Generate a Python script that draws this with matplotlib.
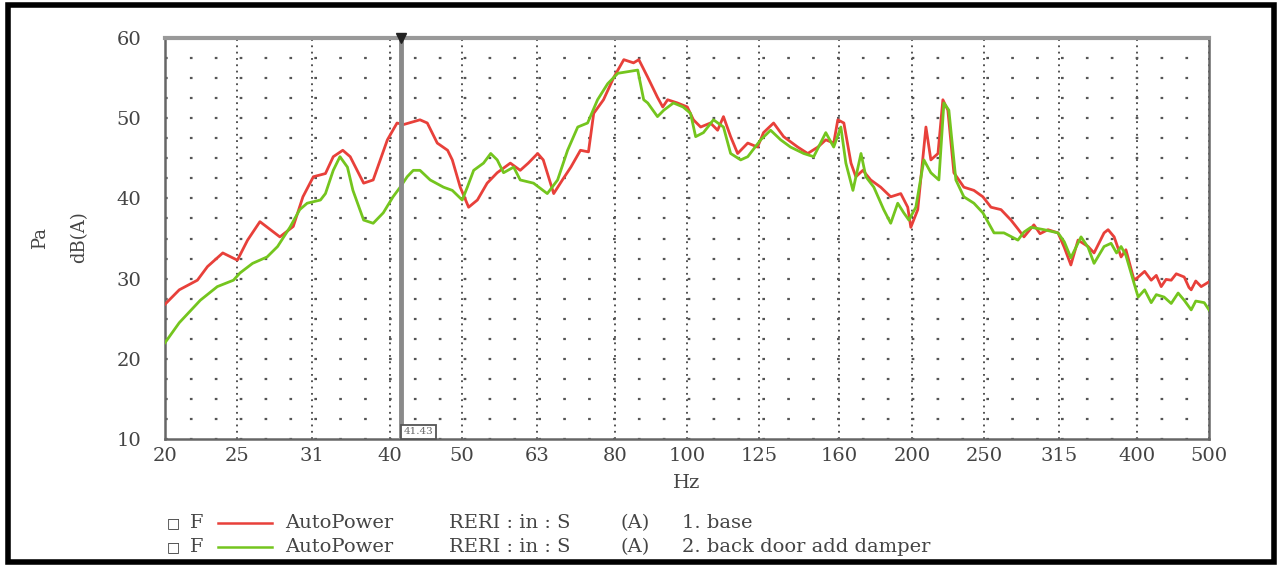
import numpy as np
import matplotlib
matplotlib.use('Agg')
import matplotlib.pyplot as plt
from matplotlib.lines import Line2D
from matplotlib.patches import Rectangle

# 1/3 octave band ticks
band_pos = [20, 25, 31.5, 40, 50, 63, 80, 100, 125, 160, 200, 250, 315, 400, 500]
band_lab = ['20', '25', '31', '40', '50', '63', '80', '100', '125', '160', '200', '250', '315', '400', '500']

# 1. base (red)
f_base = [20.0, 20.9, 22.1, 22.8, 23.9, 25.0, 25.8, 26.8, 28.5, 29.7, 30.6, 31.6, 32.8, 33.6, 34.6,
          35.4, 36.9, 38.0, 39.7, 40.9, 41.7, 43.9, 44.9, 46.3, 47.8, 48.5, 49.7, 51.0, 52.4, 54.0,
          55.7, 58.0, 59.8, 61.3, 63.1, 64.2, 66.3, 68.1, 69.9, 72.0, 73.8, 75.0, 77.3, 79.8, 82.3,
          84.8, 86.2, 88.6, 91.3, 92.8, 94.2, 97.1, 100.1, 102.0, 104.3, 107.5, 109.9, 111.9, 114.4,
          116.9, 120.6, 124.3, 126.6, 130.6, 134.7, 140.7, 145.1, 149.7, 153.4, 157.2, 159.2, 162.2,
          165.8, 168.3, 172.0, 176.2, 181.7, 187.4, 193.3, 197.5, 199.4, 203.7, 208.9, 212.1, 216.8,
          220.1, 223.5, 227.7, 234.8, 242.2, 249.0, 255.3, 263.3, 271.5, 277.4, 282.6, 291.4, 297.0,
          304.3, 313.9, 320.0, 326.6, 333.9, 344.4, 350.8, 361.8, 366.3, 373.2, 381.3, 387.0, 396.9,
          401.9, 410.0, 418.4, 425.0, 431.5, 438.0, 445.0, 452.0, 463.2, 470.0, 473.3, 480.0, 488.1, 500.0]
db_base = [26.8, 28.6, 29.8, 31.5, 33.2, 32.3, 34.8, 37.1, 35.2, 36.5, 40.2, 42.7, 43.1, 45.2, 46.0,
           45.2, 41.9, 42.3, 47.3, 49.4, 49.2, 49.8, 49.4, 46.9, 46.0, 44.8, 41.4, 38.9, 39.8, 41.9,
           43.2, 44.4, 43.5, 44.4, 45.6, 44.8, 40.6, 42.3, 43.9, 46.0, 45.8, 50.6, 52.3, 55.1, 57.3,
           56.9, 57.3, 55.1, 52.6, 51.4, 52.3, 51.9, 51.4, 49.8, 48.9, 49.4, 48.5, 50.2, 47.7,
           45.6, 46.9, 46.4, 48.2, 49.4, 47.7, 46.4, 45.6, 46.4, 47.3, 46.9, 49.8, 49.4,
           44.4, 42.7, 43.5, 42.3, 41.4, 40.2, 40.6, 38.9, 36.4, 38.6, 48.9, 44.8, 45.6,
           52.3, 51.0, 43.2, 41.4, 41.0, 40.2, 38.9, 38.6, 37.3, 36.2, 35.2, 36.7, 35.6,
           36.1, 35.7, 33.9, 31.7, 34.8, 34.0, 33.2, 35.7, 36.1, 35.2, 32.7, 33.6, 29.8,
           30.2, 30.9, 29.8, 30.4, 29.0, 29.9, 29.8, 30.6, 30.2, 28.9, 28.6, 29.7, 29.0, 29.6]

# 2. back door add damper (green)
f_damp = [20.0, 20.9, 22.3, 23.5, 24.7, 25.2, 26.2, 27.4, 28.3, 29.4, 30.3, 31.0, 32.3, 32.8, 33.6,
          34.3, 35.1, 35.7, 36.9, 38.0, 39.2, 40.4, 41.3, 42.2, 43.0, 43.9, 45.3, 47.2, 48.5, 50.0,
          50.8, 51.8, 53.4, 54.6, 55.7, 56.8, 58.6, 59.8, 62.3, 65.0, 67.1, 69.2, 71.4, 73.6, 75.9,
          78.3, 80.8, 83.3, 85.9, 87.5, 88.6, 91.3, 93.1, 95.9, 98.8, 101.1, 102.7, 105.2, 108.5,
          111.9, 114.4, 118.0, 120.6, 125.5, 129.4, 133.5, 137.6, 143.3, 147.8, 153.4, 157.2, 160.7,
          163.2, 166.8, 171.0, 173.6, 177.9, 183.4, 187.4, 191.5, 195.1, 198.2, 202.5, 207.6, 212.1,
          217.4, 220.8, 224.2, 229.1, 234.8, 242.2, 249.0, 257.7, 265.7, 277.4, 282.6, 288.8, 300.6,
          313.9, 320.0, 326.6, 337.0, 344.4, 350.8, 361.8, 369.7, 376.0, 381.3, 387.0, 396.9, 401.9,
          410.0, 418.4, 425.0, 435.3, 445.0, 454.6, 463.2, 473.3, 480.0, 492.7, 500.0]
db_damp = [22.0, 24.5, 27.3, 29.0, 29.8, 30.7, 31.9, 32.7, 34.0, 36.4, 38.6, 39.4, 39.8, 40.6, 43.5,
           45.2, 43.9, 41.0, 37.3, 36.9, 38.2, 40.2, 41.4, 42.7, 43.5, 43.5, 42.3, 41.4, 41.0, 39.8,
           41.4, 43.5, 44.4, 45.6, 44.8, 43.2, 43.9, 42.3, 41.9, 40.6, 42.3, 46.0, 48.9, 49.4, 52.3,
           54.3, 55.6, 55.8, 56.0, 52.3, 51.9, 50.2, 51.0, 51.9, 51.4, 50.6, 47.7, 48.2, 49.8,
           48.9, 45.6, 44.8, 45.2, 47.3, 48.5, 47.3, 46.4, 45.6, 45.2, 48.2, 46.4, 48.9,
           44.4, 41.0, 45.6, 42.7, 41.4, 38.6, 36.9, 39.4, 38.2, 37.3, 38.9, 44.8, 43.2,
           42.3, 51.9, 51.0, 42.3, 40.2, 39.4, 38.2, 35.7, 35.7, 34.8, 35.8, 36.4, 36.1,
           35.7, 34.6, 32.6, 35.2, 33.9, 31.9, 34.0, 34.4, 33.2, 34.0, 32.9, 29.4, 27.7,
           28.6, 27.0, 28.0, 27.7, 26.9, 28.2, 27.3, 26.1, 27.2, 27.0, 26.1]

cursor_f = 41.43

red = '#e8403a'
green = '#74c51e'
txt = '#444444'
serif = 'DejaVu Serif'

fig = plt.figure(figsize=(12.79, 5.67), dpi=100)
ax = fig.add_axes([165/1279, 1-439/567, 1044/1279, 401/567])

ax.plot(f_base, db_base, color=red, lw=2.0, zorder=3)
ax.plot(f_damp, db_damp, color=green, lw=2.0, zorder=4)

ax.set_xscale('log')
ax.set_xlim(20, 500)
ax.set_ylim(10, 60)
ax.set_xticks(band_pos)
ax.set_xticklabels(band_lab)
ax.xaxis.set_minor_locator(matplotlib.ticker.NullLocator())
ax.set_yticks(np.arange(10, 61, 10))
ax.set_yticks(np.arange(12.5, 60, 2.5), minor=True)
ax.tick_params(axis='both', which='both', length=0, labelcolor=txt, labelsize=14)
ax.tick_params(axis='x', pad=6)
ax.tick_params(axis='y', pad=17)
for lab in ax.get_xticklabels() + ax.get_yticklabels():
    lab.set_family(serif)

ax.grid(which='both', axis='y', color='#555555', lw=1.6, ls=(0, (1.2, 10)))
ax.grid(which='major', axis='x', color='#444444', lw=1.3, ls=(0, (1, 2.5)))

for s in ['left', 'bottom', 'right']:
    ax.spines[s].set_color('#666666')
    ax.spines[s].set_linewidth(1.8)
ax.spines['top'].set_color('#999999')
ax.spines['top'].set_linewidth(3)

# cursor
ax.axvline(cursor_f, color='#8a8a8a', lw=3.5, zorder=5)
ax.plot([cursor_f], [60], marker='v', color='#222222', ms=7, zorder=6, clip_on=False)
ax.annotate('%.2f' % cursor_f, (cursor_f, 10), xytext=(2, 2), textcoords='offset points',
            ha='left', va='bottom', fontsize=7.5, color='#666666', family=serif, zorder=7,
            bbox=dict(boxstyle='square,pad=0.25', fc='white', ec='#555555', lw=1.3))

# axis labels
fig.text(40/1279, 1-238/567, 'Pa', rotation=90, ha='center', va='center', fontsize=13,
         color=txt, family=serif)
fig.text(79/1279, 1-237/567, 'dB(A)', rotation=90, ha='center', va='center', fontsize=13,
         color=txt, family=serif)
fig.text(687/1279, 1-483/567, 'Hz', ha='center', va='center', fontsize=14, color=txt, family=serif)

# legend
rows = [(523, red, '1. base'), (547, green, '2. back door add damper')]
for y, c, name in rows:
    yy = 1 - y/567
    fig.text(167/1279, yy, '\u25a1', ha='left', va='center', fontsize=10, color='#333333',
             family='DejaVu Sans', fontweight='bold')
    fig.text(190/1279, yy, 'F', ha='left', va='center', fontsize=14, color=txt, family=serif)
    fig.add_artist(Line2D([218/1279, 272/1279], [yy, yy], color=c, lw=1.8, transform=fig.transFigure))
    fig.text(285/1279, yy, 'AutoPower', ha='left', va='center', fontsize=14, color=txt, family=serif)
    fig.text(449/1279, yy, 'RERI : in : S', ha='left', va='center', fontsize=14, color=txt, family=serif)
    fig.text(620/1279, yy, '(A)', ha='left', va='center', fontsize=14, color=txt, family=serif)
    fig.text(682/1279, yy, name, ha='left', va='center', fontsize=14, color=txt, family=serif)

# outer frame
fig.add_artist(Rectangle((8/1279, 5/567), 1266/1279, 557/567, transform=fig.transFigure,
                         fill=False, ec='black', lw=4))

fig.savefig('out.png', dpi=100)
